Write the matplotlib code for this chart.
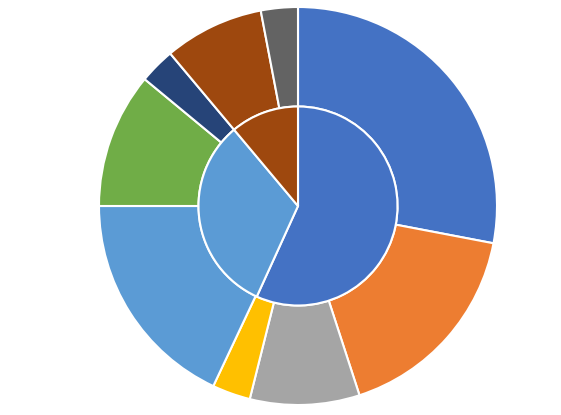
import matplotlib.pyplot as plt

# outer ring, clockwise from 12 o'clock (percent)
outer_vals = [28.0, 17.0, 8.9, 3.1, 18.0, 11.0, 2.9, 8.1, 3.0]
outer_colors = ['#4472C4', '#ED7D31', '#A5A5A5', '#FFC000', '#5B9BD5',
                '#70AD47', '#264478', '#9E480E', '#636363']

# inner ring
inner_vals = [56.8, 32.1, 11.1]
inner_colors = ['#4472C4', '#5B9BD5', '#9E480E']

fig = plt.figure(figsize=(5.61, 4.15), dpi=100)
ax = fig.add_axes([98 / 561, 9 / 415, 400 / 561, 400 / 415])

wedge_style = dict(edgecolor='white', linewidth=1.5)

ax.pie(outer_vals, colors=outer_colors, radius=1.0, startangle=90,
       counterclock=False, wedgeprops=dict(width=0.5, **wedge_style))
ax.pie(inner_vals, colors=inner_colors, radius=0.5, startangle=90,
       counterclock=False, wedgeprops=wedge_style)

ax.set_xlim(-1.005, 1.005)
ax.set_ylim(-1.005, 1.005)
ax.set_aspect('equal')
ax.axis('off')

fig.savefig('out.png', dpi=100)
